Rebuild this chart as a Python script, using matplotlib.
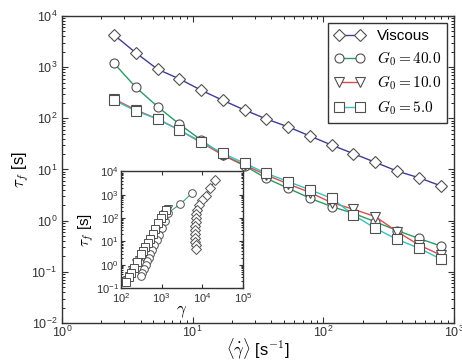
import matplotlib
matplotlib.use("Agg")
import matplotlib.pyplot as plt
from matplotlib.ticker import LogLocator

plt.rcParams['mathtext.fontset'] = 'cm'
plt.rcParams['font.family'] = ['Liberation Sans', 'DejaVu Sans']
plt.rcParams['xtick.direction'] = 'in'
plt.rcParams['ytick.direction'] = 'in'
plt.rcParams['xtick.top'] = True
plt.rcParams['ytick.right'] = True

# shear rate <gamma_dot> [1/s]
rate = [2.50, 3.67, 5.39, 7.91, 11.6, 17.0, 25.0, 36.7, 53.9, 79.1,
        116, 170, 250, 367, 539, 791]

# failure time tau_f [s]
tau_visc = [4270, 1910, 910, 590, 355, 225, 145, 97, 68, 45,
            30, 20.4, 13.8, 9.3, 6.9, 4.8]
tau_g40 = [1190, 405, 169, 77, 37.7, 19.2, 11.8, 6.7, 4.3, 2.74,
           1.88, 1.39, 0.95, 0.64, 0.45, 0.32]
tau_g10 = [239, 146, 97, 59, 33.7, 19.2, 12.2, 7.8, 5.2, 3.55,
           2.24, 1.67, 1.20, 0.61, 0.335, 0.213]
tau_g5 = [228, 139, 97, 59, 35, 20.7, 13.2, 8.4, 5.8, 4.0,
          2.74, 1.29, 0.71, 0.43, 0.29, 0.178]

# inset: accumulated strain gamma
gam_visc = [21000, 15500, 12000, 9800, 8200, 7400, 7000, 6800, 6800, 6700,
            6700, 6700, 6700, 6700, 6800, 6800]
gam_g40 = [5600, 2900, 1450, 1190, 1000, 845, 750, 653, 585, 524,
           477, 444, 404, 366, 337, 309]
gam_g10 = [1400, 1190, 1060, 910, 770, 650, 565, 490, 435, 385,
           340, 280, 230, 190, 160, 140]
gam_g5 = [1270, 1080, 968, 829, 703, 597, 518, 450, 400, 356,
          316, 250, 207, 177, 156, 134]

labels = ['Viscous', r'$G_0 = 40.0$', r'$G_0 = 10.0$', r'$G_0 = 5.0$']
colors = ['#3c3c9c', '#2a9a66', '#d8504c', '#38c0c0']
markers = ['D', 'o', 'v', 's']
taus = [tau_visc, tau_g40, tau_g10, tau_g5]
gams = [gam_visc, gam_g40, gam_g10, gam_g5]

fig = plt.figure(figsize=(4.62, 3.61), dpi=100)
ax = fig.add_axes([0.1342, 0.1053, 0.8485, 0.8504])

for t, c, m, l in zip(taus, colors, markers, labels):
    ax.plot(rate, t, color=c, marker=m, mfc='white', mec='#505050',
            ms=6.5 if m != 'D' else 6, mew=0.8, lw=1.0, label=l)

ax.set_xscale('log')
ax.set_yscale('log')
ax.set_xlim(1, 1000)
ax.set_ylim(1e-2, 1e4)
ax.xaxis.set_major_locator(LogLocator(base=10, numticks=10))
ax.yaxis.set_major_locator(LogLocator(base=10, numticks=10))
ax.tick_params(which='major', length=4, labelsize=9, colors='#333333')
ax.tick_params(axis='x', which='major', pad=1.5)
ax.tick_params(which='minor', length=2)
for s in ax.spines.values():
    s.set_linewidth(1.0)
    s.set_color('#333333')
ax.set_xlabel(r'$\langle\dot{\gamma}\rangle$ [s$^{-1}$]', fontsize=12, labelpad=-3)
ax.set_ylabel(r'$\tau_f$ [s]', fontsize=12, labelpad=0)

leg = ax.legend(loc='upper right', numpoints=2, fontsize=11, fancybox=False,
                framealpha=1, edgecolor='#333333', borderaxespad=0.45,
                handlelength=2.0, handletextpad=0.8, labelspacing=0.4)
leg.get_frame().set_linewidth(1.0)

# inset
axi = fig.add_axes([0.2619, 0.2022, 0.2641, 0.3228])
for g, t, c, m in zip(gams, taus, colors, markers):
    axi.plot(g, t, color=c, marker=m, mfc='white', mec='#505050',
             ms=5.5 if m != 'D' else 5, mew=0.7, lw=0.7)
axi.set_xscale('log')
axi.set_yscale('log')
axi.set_xlim(1e2, 1e5)
axi.set_ylim(1e-1, 1e4)
axi.xaxis.set_major_locator(LogLocator(base=10, numticks=10))
axi.yaxis.set_major_locator(LogLocator(base=10, numticks=10))
axi.tick_params(which='major', length=3, labelsize=8, colors='#333333', pad=1.5)
axi.tick_params(axis='x', which='major', pad=2.5)
axi.tick_params(which='minor', length=1.5)
for s in axi.spines.values():
    s.set_linewidth(1.0)
    s.set_color('#333333')
axi.set_xlabel(r'$\gamma$', fontsize=12, labelpad=-1)
axi.set_ylabel(r'$\tau_f$ [s]', fontsize=11, labelpad=0)

fig.savefig('out.png', dpi=100)
